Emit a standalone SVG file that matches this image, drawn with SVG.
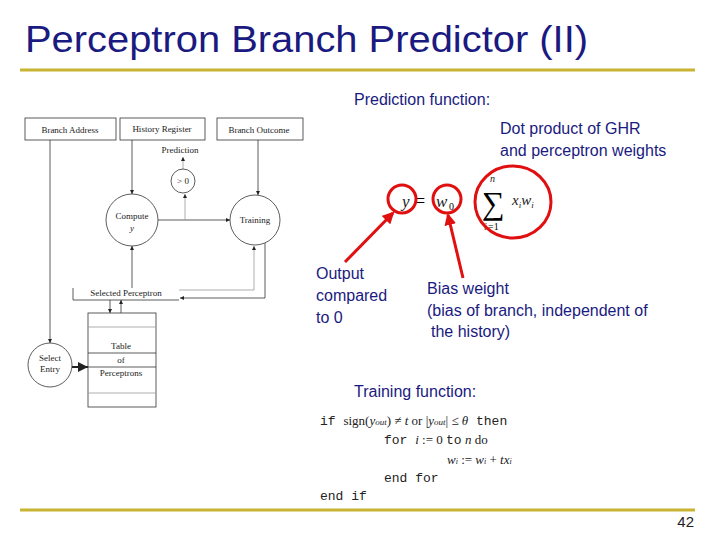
<svg xmlns="http://www.w3.org/2000/svg" width="720" height="540" viewBox="0 0 720 540">
<defs>
<marker id="a" viewBox="0 0 6 6" refX="6" refY="3" markerWidth="5" markerHeight="5" orient="auto"><path d="M0,0L6,3L0,6z" fill="#222"/></marker>
<marker id="r" viewBox="0 0 6 6" refX="5" refY="3" markerWidth="4" markerHeight="4" orient="auto"><path d="M0,0L6,3L0,6z" fill="#e01010"/></marker>
</defs>
<style>
.t{font-family:"Liberation Sans",Arial,sans-serif}
.s{font-family:"Liberation Serif","Times New Roman",serif;font-size:9px;fill:#222}
.b{fill:#fff;stroke:#333;stroke-width:0.8}
.l{fill:none;stroke:#333;stroke-width:0.8}
.g{fill:none;stroke:#999;stroke-width:0.8}
.rc{fill:none;stroke:#e01010;stroke-width:3}
.m{font-family:"Liberation Mono","Courier New",monospace;font-size:13px;fill:#222}
.i{font-family:"Liberation Serif","Times New Roman",serif;font-style:italic;fill:#222}
</style>
<rect width="720" height="540" fill="#fff"/>
<text class="t" x="25" y="52" font-size="37" fill="#1a1a80" textLength="563" lengthAdjust="spacingAndGlyphs">Perceptron Branch Predictor (II)</text>
<line x1="20" y1="70" x2="695" y2="70" stroke="#c8b432" stroke-width="3"/>
<line x1="20" y1="510" x2="695" y2="510" stroke="#c8b432" stroke-width="3"/>
<text class="t" x="694" y="527" font-size="15" text-anchor="end" fill="#222">42</text>

<g id="connectors">
<line class="l" x1="50" y1="140" x2="50" y2="343" marker-end="url(#a)"/>
<line class="l" x1="132" y1="140" x2="132" y2="194" marker-end="url(#a)"/>
<line class="l" x1="258" y1="140" x2="258" y2="195" marker-end="url(#a)"/>
<line class="l" x1="158" y1="220" x2="230" y2="220" marker-end="url(#a)"/>
<line class="g" x1="185" y1="220" x2="185" y2="194" marker-end="url(#a)"/>
<line class="g" x1="183" y1="169" x2="183" y2="157" marker-end="url(#a)"/>
<line class="l" x1="132" y1="288" x2="132" y2="246" marker-end="url(#a)"/>
<polyline class="l" points="265,243 265,298 180,298" marker-end="url(#a)"/>
<polyline class="g" points="179,290 254,290 254,246" marker-end="url(#a)"/>
<line class="l" x1="110" y1="300" x2="110" y2="313" marker-end="url(#a)"/>
<line class="l" x1="121" y1="313" x2="121" y2="300" marker-end="url(#a)"/>
<line x1="72" y1="367" x2="88" y2="367" stroke="#222" stroke-width="2" marker-end="url(#a)"/>
<line x1="345" y1="262" x2="393" y2="213" stroke="#e01010" stroke-width="3" marker-end="url(#r)"/>
<line x1="463" y1="278" x2="448" y2="215" stroke="#e01010" stroke-width="3" marker-end="url(#r)"/>
</g>

<g id="branch-address"><rect class="b" x="25" y="118" width="91" height="22"/><text class="s" x="70" y="133" text-anchor="middle">Branch Address</text></g>
<g id="history-register"><rect class="b" x="120" y="118" width="85" height="22"/><text class="s" x="162" y="132" text-anchor="middle">History Register</text></g>
<g id="branch-outcome"><rect class="b" x="217" y="118" width="86" height="22"/><text class="s" x="259" y="133" text-anchor="middle">Branch Outcome</text></g>
<g id="prediction"><text class="s" x="180" y="153" text-anchor="middle">Prediction</text></g>
<g id="gt0"><circle class="b" cx="183" cy="181" r="12"/><text class="s" x="183" y="184" text-anchor="middle">&gt; 0</text></g>
<g id="compute"><circle class="b" cx="132" cy="220" r="26"/><text class="s" x="132" y="219" text-anchor="middle">Compute</text><text class="s" x="132" y="231" text-anchor="middle" font-style="italic">y</text></g>
<g id="training"><circle class="b" cx="255" cy="220" r="25"/><text class="s" x="255" y="223" text-anchor="middle">Training</text></g>
<g id="selected-perceptron"><polyline class="l" points="73,288 73,300 179,300"/><text class="s" x="126" y="296" text-anchor="middle">Selected Perceptron</text></g>
<g id="table"><rect class="b" x="88" y="313" width="68" height="94"/>
<line class="g" x1="88" y1="327" x2="156" y2="327"/><line class="l" x1="88" y1="353" x2="156" y2="353"/><line class="l" x1="88" y1="367" x2="156" y2="367"/><line class="g" x1="88" y1="393" x2="156" y2="393"/>
<text class="s" x="121" y="349" text-anchor="middle">Table</text><text class="s" x="121" y="363" text-anchor="middle">of</text><text class="s" x="121" y="376" text-anchor="middle">Perceptrons</text></g>
<g id="select-entry"><circle class="b" cx="50" cy="365" r="22"/><text class="s" x="50" y="361" text-anchor="middle">Select</text><text class="s" x="50" y="372" text-anchor="middle">Entry</text></g>

<g id="right">
<text class="t" x="354" y="105" font-size="16" fill="#1a1a80">Prediction function:</text>
<text class="t" x="500" y="134" font-size="16" fill="#1a1a80">Dot product of GHR</text>
<text class="t" x="500" y="156" font-size="16" fill="#1a1a80">and perceptron weights</text>
<text class="i" x="402" y="207" font-size="17">y</text>
<text x="415" y="207" font-size="18" font-family="Liberation Serif,serif">=</text>
<text class="i" x="436" y="207" font-size="17">w</text><text x="449" y="210" font-size="10" font-family="Liberation Serif,serif">0</text>
<text x="482" y="214" font-size="32" font-family="Liberation Serif,serif">∑</text>
<text class="i" x="490" y="182" font-size="10">n</text>
<text class="i" x="484" y="230" font-size="10">i</text><text x="488" y="230" font-size="10" font-family="Liberation Serif,serif">=1</text>
<text class="i" x="512" y="205" font-size="15">x<tspan font-size="9" dy="3">i</tspan><tspan dy="-3">w</tspan><tspan font-size="9" dy="3">i</tspan></text>
<circle class="rc" cx="402" cy="199" r="14"/>
<circle class="rc" cx="447" cy="199" r="14"/>
<ellipse class="rc" cx="513" cy="202" rx="38" ry="36"/>
<text class="t" x="316" y="279" font-size="16" fill="#1a1a80">Output</text>
<text class="t" x="316" y="301" font-size="16" fill="#1a1a80">compared</text>
<text class="t" x="316" y="323" font-size="16" fill="#1a1a80">to 0</text>
<text class="t" x="427" y="294" font-size="16" fill="#1a1a80">Bias weight</text>
<text class="t" x="427" y="316" font-size="16" fill="#1a1a80">(bias of branch, independent of</text>
<text class="t" x="431" y="337" font-size="16" fill="#1a1a80">the history)</text>
<text class="t" x="354" y="397" font-size="16" fill="#1a1a80">Training function:</text>
<text class="m" x="320" y="425">if <tspan font-family="Liberation Serif,serif">sign(</tspan><tspan class="i">y</tspan><tspan class="i" font-size="9">out</tspan><tspan font-family="Liberation Serif,serif">) ≠ </tspan><tspan class="i">t</tspan><tspan font-family="Liberation Serif,serif"> or |</tspan><tspan class="i">y</tspan><tspan class="i" font-size="9">out</tspan><tspan font-family="Liberation Serif,serif">| ≤ </tspan><tspan class="i">θ</tspan> then</text>
<text class="m" x="384" y="444">for <tspan class="i">i</tspan><tspan font-family="Liberation Serif,serif"> := 0 </tspan>to<tspan class="i"> n</tspan><tspan font-family="Liberation Serif,serif"> do</tspan></text>
<text class="i" x="447" y="464" font-size="13">w<tspan font-size="8">i</tspan><tspan font-style="normal"> := </tspan>w<tspan font-size="8">i</tspan><tspan font-style="normal"> + </tspan>tx<tspan font-size="8">i</tspan></text>
<text class="m" x="384" y="482">end for</text>
<text class="m" x="320" y="500">end if</text>
</g>
</svg>
